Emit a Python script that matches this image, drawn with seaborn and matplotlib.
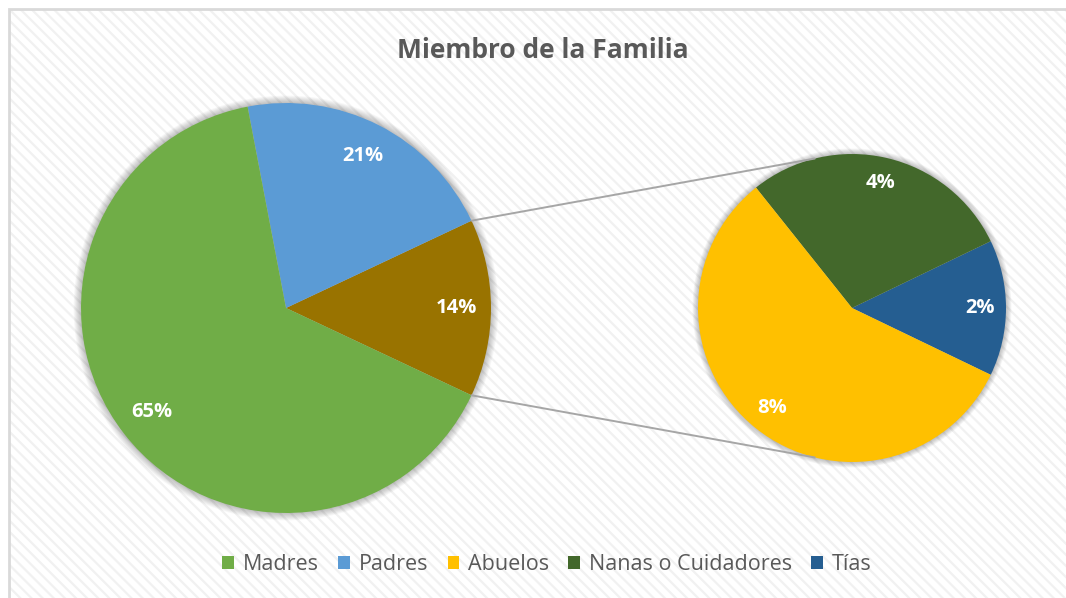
import numpy as np
import matplotlib
matplotlib.use("Agg")
import matplotlib.pyplot as plt
import seaborn as sns
from matplotlib.patches import Rectangle, Circle, Patch, ConnectionPatch

# Datos (porcentajes)
main_labels = ["Otros", "Padres", "Madres"]
main_values = [14, 21, 65]
main_colors = ["#997300", "#5B9BD5", "#70AD47"]

sub_labels = ["Tías", "Nanas o Cuidadores", "Abuelos"]
sub_values = [2, 4, 8]
sub_colors = ["#255E91", "#43682B", "#FFC000"]

legend_labels = ["Madres", "Padres", "Abuelos", "Nanas o Cuidadores", "Tías"]
legend_colors = ["#70AD47", "#5B9BD5", "#FFC000", "#43682B", "#255E91"]

title = "Miembro de la Familia"

sns.set_theme(style="white")
plt.rcParams["font.family"] = ["Open Sans", "DejaVu Sans"]
plt.rcParams["hatch.linewidth"] = 1.6

W, H = 1066, 598
fig = plt.figure(figsize=(W / 100, H / 100), dpi=100)
fig.patch.set_facecolor("white")

# fondo rayado y marco del area del grafico
fig.patches.append(Rectangle((8.5 / W, -0.05), 1.2, 1 - 9 / H + 0.05, transform=fig.transFigure,
                             facecolor="white", edgecolor="#F1F1F1", hatch="\\\\\\", lw=0, zorder=-2))
fig.patches.append(Rectangle((8.5 / W, -0.05), 1.2, 1 - 9 / H + 0.05, transform=fig.transFigure,
                             facecolor="none", edgecolor="#D9D9D9", lw=2, zorder=-1))


def pie_axes(cx, cy, r):
    ax = fig.add_axes([(cx - r) / W, (H - cy - r) / H, 2 * r / W, 2 * r / H])
    ax.set_facecolor("none")
    return ax


def draw_pie(ax, values, colors):
    # sombra suave alrededor
    for k in range(1, 9):
        ax.add_patch(Circle((0, 0), 1 + 0.0045 * k, facecolor="black", alpha=0.03,
                            lw=0, clip_on=False, zorder=0))
    total = sum(values)
    start = -0.5 * values[0] / total * 360
    wedges, _, autotexts = ax.pie(values, colors=colors, startangle=start, counterclock=True,
                                  autopct=lambda p: f"{p * total / 100:.0f}%",
                                  pctdistance=0.83, wedgeprops=dict(lw=0),
                                  textprops=dict(color="white", fontsize=14.5, fontweight="bold"))
    for w in wedges:
        w.set_zorder(2)
    for t in autotexts:
        t.set_zorder(3)
    ax.set_xlim(-1, 1)
    ax.set_ylim(-1, 1)
    ax.axis("off")
    return wedges


ax1 = pie_axes(286, 308, 205)
ax2 = pie_axes(852, 308, 154)
w_main = draw_pie(ax1, main_values, main_colors)
w_sub = draw_pie(ax2, sub_values, sub_colors)

# lineas de conexion
otros = w_main[0]
for a_main, a_sub in [(otros.theta2, 104), (otros.theta1, -104)]:
    con = ConnectionPatch(xyA=(np.cos(np.radians(a_main)), np.sin(np.radians(a_main))), coordsA=ax1.transData,
                          xyB=(np.cos(np.radians(a_sub)), np.sin(np.radians(a_sub))), coordsB=ax2.transData,
                          color="#A6A6A6", lw=1.4, zorder=1)
    fig.add_artist(con)

fig.text(543 / W, 1 - 50 / H, title, ha="center", va="center", fontsize=19,
         fontweight="bold", color="#595959")

handles = [Patch(facecolor=c, edgecolor="none") for c in legend_colors]
leg = fig.legend(handles, legend_labels, loc="center", bbox_to_anchor=(547 / W, 1 - 565 / H),
                 ncol=5, frameon=False, fontsize=15.5, handlelength=0.55, handleheight=0.55,
                 handletextpad=0.4, columnspacing=0.9, labelcolor="#595959")

fig.savefig("out.png", dpi=100, facecolor="white")
